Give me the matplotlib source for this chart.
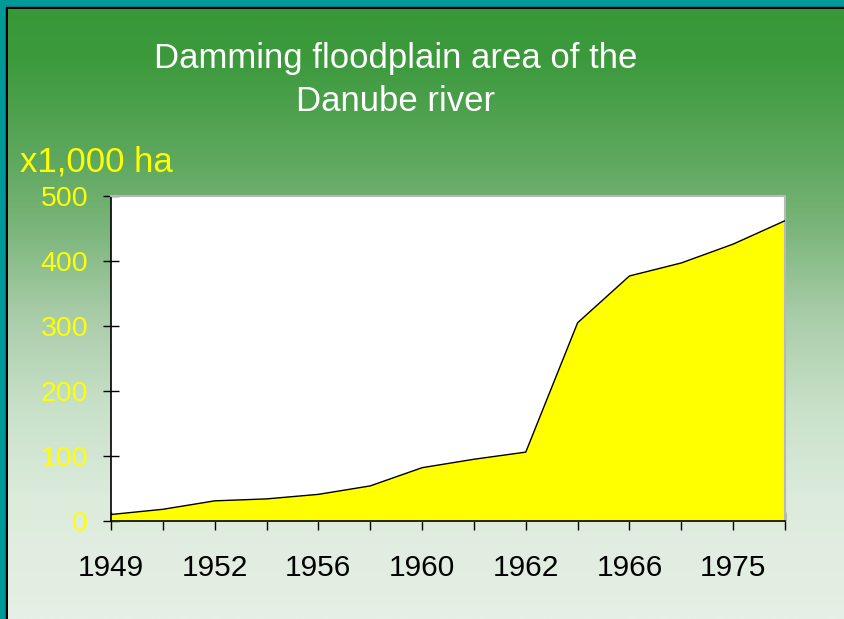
import numpy as np
import matplotlib
matplotlib.use("Agg")
import matplotlib.pyplot as plt
from matplotlib.patches import Rectangle

# ---- data ----
categories = ["1949", "", "1952", "", "1956", "", "1960", "", "1962", "", "1966", "", "1975", ""]
values = [10, 18, 31, 34, 41, 54, 82, 95, 106, 305, 377, 397, 426, 462]
y_ticks = [0, 100, 200, 300, 400, 500]
title_text = "Damming floodplain area of the\nDanube river"
unit_text = "x1,000 ha"

W, H = 844, 619
fig = plt.figure(figsize=(W / 100, H / 100), dpi=100)
plt.rcParams['font.family'] = ['Liberation Sans', 'DejaVu Sans']

# background: teal frame + black line + vertical green gradient
bg = fig.add_axes([0, 0, 1, 1])
bg.set_xlim(0, W)
bg.set_ylim(H, 0)
bg.axis('off')
bg.add_patch(Rectangle((0, 0), W, H, color=(0 / 255, 153 / 255, 153 / 255)))
bg.add_patch(Rectangle((6, 7), W, H, color='black'))
stops_y = np.array([0, 0.08, 0.25, 0.35, 0.5, 0.65, 0.8, 1.0])
stops_c = np.array([
    [56, 152, 56], [60, 154, 60], [95, 168, 95], [120, 180, 120],
    [168, 204, 168], [200, 224, 200], [220, 235, 220], [230, 240, 230]]) / 255.0
t = np.linspace(0, 1, 400)
grad = np.stack([np.interp(t, stops_y, stops_c[:, k]) for k in range(3)], axis=1)
bg.imshow(grad[:, None, :], extent=(8, W, H, 9), aspect='auto', interpolation='bilinear', zorder=2)

# title and unit label
fig.text(396 / W, 1 - 80 / H, title_text, color='white', fontsize=25, ha='center', va='center',
         linespacing=1.42)
fig.text(20 / W, 1 - 162 / H, unit_text, color='yellow', fontsize=25, ha='left', va='center')

# plot area
left, right, top, bottom = 111, 785, 196, 521
ax = fig.add_axes([left / W, 1 - bottom / H, (right - left) / W, (bottom - top) / H])
ax.set_facecolor('white')
x = np.arange(len(values))
ax.fill_between(x, values, 0, color='#FFFF00', zorder=2)
ax.plot(x, values, color='black', lw=1.0, zorder=3)
ax.set_xlim(0, len(values) - 1)
ax.set_ylim(0, 500)
ax.set_xticks(x)
ax.set_xticklabels(categories)
ax.set_yticks(y_ticks)
ax.set_yticklabels([str(v) for v in y_ticks])
ax.tick_params(axis='x', direction='inout', length=13, width=1, colors='black',
               labelsize=21.5, pad=17)
ax.tick_params(axis='y', direction='inout', length=11, width=1, color='black',
               labelcolor='yellow', labelsize=20.5, pad=11)
for s in ['left', 'bottom']:
    ax.spines[s].set_color('black')
    ax.spines[s].set_linewidth(1.2)
for s in ['top', 'right']:
    ax.spines[s].set_color('#b8b8b8')
    ax.spines[s].set_linewidth(1.5)
for lab in ax.get_xticklabels():
    lab.set_color('black')

fig.savefig('out.png', dpi=100)
